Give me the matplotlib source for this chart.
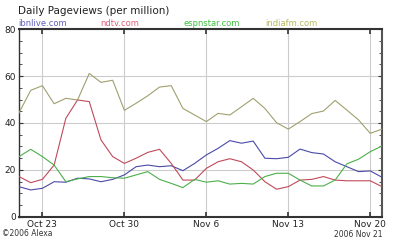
import matplotlib
matplotlib.use("Agg")
import matplotlib.pyplot as plt
import matplotlib.dates as mdates
from matplotlib.ticker import MultipleLocator
import pandas as pd

# daily pageviews (per million), Oct 21 .. Nov 21 2006
dates = pd.date_range("2006-10-21", "2006-11-21", freq="D")
ibnlive = [12.9, 11.5, 12.2, 15.0, 14.8, 16.5, 16.2, 15.0, 16.0, 17.9, 21.4, 22.1,
           21.4, 21.8, 19.7, 22.8, 26.4, 29.2, 32.5, 31.4, 32.3, 25.0, 24.8, 25.4,
           28.9, 27.4, 26.8, 23.5, 21.4, 19.3, 19.6, 16.9]
ndtv = [17.2, 14.6, 16.0, 22.1, 42.0, 49.8, 49.1, 32.8, 25.7, 22.8, 25.0, 27.5,
        28.8, 22.8, 15.7, 15.7, 20.7, 23.5, 24.8, 23.5, 20.0, 15.0, 11.8, 12.9,
        15.7, 16.0, 17.2, 15.7, 15.4, 15.4, 15.4, 12.9]
espnstar = [25.7, 28.8, 25.7, 22.1, 15.0, 16.2, 17.2, 17.2, 16.7, 16.5, 17.9, 19.3,
            16.0, 14.3, 12.5, 16.0, 14.8, 15.4, 14.0, 14.3, 14.0, 17.2, 18.6, 18.6,
            15.7, 13.2, 13.2, 15.7, 22.6, 24.6, 27.8, 30.2]
indiafm = [44.3, 53.9, 55.9, 48.2, 50.5, 49.8, 61.1, 57.3, 58.2, 45.4, 48.4, 51.6,
           55.3, 55.9, 46.2, 43.4, 40.6, 44.1, 43.4, 46.9, 50.5, 46.2, 40.1, 37.4,
           40.6, 44.0, 45.1, 49.6, 45.5, 41.3, 35.6, 37.4]

sites = ["ibnlive.com", "ndtv.com", "espnstar.com", "indiafm.com"]
series = [ibnlive, ndtv, espnstar, indiafm]
line_colors = ["#4a4aa8", "#c04a5a", "#4caf4c", "#a0a070"]
label_colors = ["#6060c0", "#e0607a", "#40c040", "#b8b860"]

tick_dates = pd.to_datetime(["2006-10-23", "2006-10-30", "2006-11-06",
                             "2006-11-13", "2006-11-20"])
tick_labels = ["Oct 23", "Oct 30", "Nov 6", "Nov 13", "Nov 20"]

plt.rcParams["font.family"] = ["DejaVu Sans"]

fig = plt.figure(figsize=(4, 2.4), dpi=100)
ax = fig.add_axes([0.0475, 0.096, 0.9075, 0.783])

for vals, c in zip(series, line_colors):
    ax.plot(dates, vals, color=c, lw=0.8, zorder=3)

ax.set_xlim(dates[0], dates[-1])
ax.set_ylim(0, 80)

ax.set_xticks(tick_dates)
ax.set_xticklabels(tick_labels)
ax.yaxis.set_major_locator(MultipleLocator(20))
ax.yaxis.set_minor_locator(MultipleLocator(5))
ax.grid(True, which="major", color="#cccccc", lw=0.8, zorder=0)

ax.tick_params(axis="x", which="major", direction="in", length=3.5, width=1.2,
               top=True, bottom=True, labelsize=6.5, pad=2, colors="#333333",
               labelcolor="#222222")
ax.tick_params(axis="y", which="both", direction="in", left=True, right=True,
               labelsize=6.5, pad=2, colors="#333333", labelcolor="#222222")
ax.tick_params(axis="y", which="major", length=3, width=0.8)
ax.tick_params(axis="y", which="minor", length=2, width=0.6)

for side in ["top", "bottom"]:
    ax.spines[side].set_color("#333333")
    ax.spines[side].set_linewidth(1.5)
ax.spines["left"].set_color("#333333")
ax.spines["left"].set_linewidth(1.0)
ax.spines["right"].set_color("#555555")
ax.spines["right"].set_linewidth(1.5)

fig.text(0.045, 0.955, "Daily Pageviews (per million)", fontsize=7.5,
         color="#222222", va="center", ha="left")
label_x = [0.045, 0.25, 0.458, 0.663]
for name, c, x in zip(sites, label_colors, label_x):
    fig.text(x, 0.9, name, fontsize=6, color=c, va="center", ha="left")

fig.text(0.005, 0.028, "\u00a92006 Alexa", fontsize=5.5, color="#333333",
         va="center", ha="left")
fig.text(0.955, 0.024, "2006 Nov 21", fontsize=5.5, color="#333333",
         va="center", ha="right")

fig.savefig("out.png", dpi=100)
